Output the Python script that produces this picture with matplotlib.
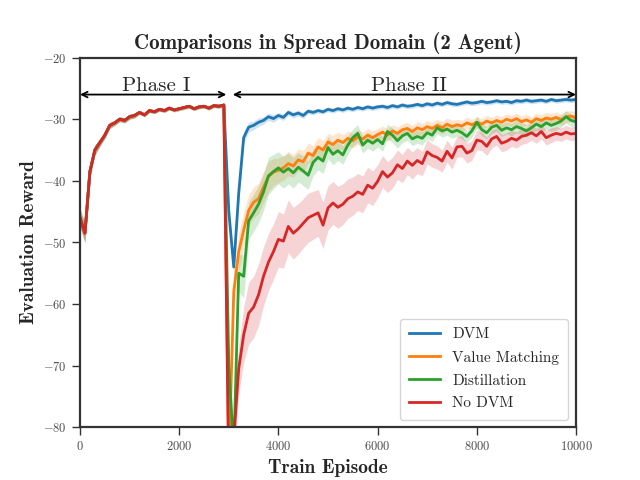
import numpy as np
import matplotlib
matplotlib.use('Agg')
import matplotlib.pyplot as plt

plt.rcParams['font.family'] = 'cmr10'
plt.rcParams['mathtext.fontset'] = 'cm'
plt.rcParams['axes.formatter.use_mathtext'] = True
plt.rcParams['axes.unicode_minus'] = True
plt.rcParams['axes.edgecolor'] = '0.2'
plt.rcParams['axes.linewidth'] = 1.6
plt.rcParams['xtick.color'] = '0.2'
plt.rcParams['ytick.color'] = '0.2'
plt.rcParams['xtick.major.size'] = 6
plt.rcParams['ytick.major.size'] = 6
plt.rcParams['xtick.major.width'] = 1.0
plt.rcParams['ytick.major.width'] = 1.0

episodes = np.arange(0, 10001, 100)

# phase I (0..2900): all methods overlap
phase1 = [-46.0, -48.5, -38.5, -35.0, -33.8, -32.6, -31.0, -30.6, -30.0, -30.2,
          -29.6, -29.4, -28.9, -29.3, -28.6, -28.8, -28.4, -28.6, -28.2, -28.5,
          -28.3, -28.1, -27.9, -28.3, -28.0, -27.9, -28.2, -27.8, -27.9, -27.7]
phase1_std = [1.5, 1.5, 1.0, 0.8, 0.6, 0.5, 0.5, 0.4, 0.4, 0.4,
              0.4, 0.4, 0.3, 0.3, 0.3, 0.3, 0.3, 0.3, 0.3, 0.3,
              0.3, 0.3, 0.3, 0.3, 0.3, 0.3, 0.3, 0.3, 0.3, 0.3]

# phase II (3000..10000)
dvm = [-45.0, -54.0, -42.0, -33.0, -31.3, -31.0, -30.5, -30.2, -29.6, -29.9,
       -29.4, -29.7, -28.9, -29.3, -29.0, -29.4, -28.7, -28.9, -28.6, -28.8,
       -28.4, -28.6, -28.3, -28.5, -28.2, -28.4, -28.1, -28.3, -28.0, -28.2,
       -28.0, -27.9, -28.1, -27.8, -28.0, -27.7, -27.9, -27.8, -27.6, -27.8,
       -27.5, -27.7, -27.4, -27.6, -27.3, -27.5, -27.6, -27.4, -27.2, -27.4,
       -27.3, -27.1, -27.3, -27.2, -27.0, -27.2, -27.1, -27.3, -27.0, -27.1,
       -26.9, -27.1, -27.0, -26.9, -27.1, -26.8, -27.0, -26.9, -26.8, -26.9,
       -26.8]
dvm_std = [1.5, 1.0, 1.5, 1.0, 0.8, 0.7, 0.7, 0.6, 0.6, 0.6,
           0.5, 0.5, 0.5, 0.5, 0.5, 0.5, 0.4, 0.4, 0.4, 0.4,
           0.4, 0.4, 0.4, 0.4, 0.4, 0.4, 0.4, 0.4, 0.4, 0.4,
           0.4, 0.4, 0.4, 0.4, 0.4, 0.4, 0.4, 0.4, 0.4, 0.4,
           0.4, 0.4, 0.4, 0.4, 0.4, 0.4, 0.4, 0.4, 0.4, 0.4,
           0.4, 0.4, 0.4, 0.4, 0.4, 0.4, 0.4, 0.4, 0.4, 0.4,
           0.4, 0.4, 0.4, 0.4, 0.4, 0.4, 0.4, 0.4, 0.4, 0.4,
           0.4]

value_matching = [-86.0, -58.0, -51.5, -48.0, -44.8, -43.5, -42.9, -41.0, -39.3, -38.6,
                  -38.3, -37.9, -37.2, -37.6, -36.6, -36.9, -35.5, -35.9, -34.5, -35.0,
                  -33.7, -34.1, -33.4, -33.8, -33.1, -33.5, -32.9, -33.2, -32.6, -33.0,
                  -32.5, -32.1, -32.6, -31.9, -32.3, -31.7, -31.5, -32.0, -31.4, -31.7,
                  -31.2, -31.5, -31.0, -31.4, -30.8, -31.2, -30.9, -31.1, -30.6, -30.9,
                  -30.5, -30.8, -30.3, -30.6, -30.2, -30.5, -30.0, -30.3, -29.9, -30.4,
                  -30.1, -30.5, -29.9, -30.2, -29.8, -30.0, -29.7, -30.1, -29.6, -29.5,
                  -29.8]
value_matching_std = [2.0, 3.0, 3.0, 3.0, 2.5, 2.5, 2.5, 2.5, 2.5, 2.2,
                      2.0, 2.0, 2.0, 1.8, 1.8, 1.8, 1.6, 1.6, 1.5, 1.5,
                      1.4, 1.4, 1.3, 1.3, 1.2, 1.2, 1.2, 1.1, 1.1, 1.1,
                      1.0, 1.0, 1.0, 1.0, 1.0, 1.0, 1.0, 1.0, 1.0, 1.0,
                      1.0, 1.0, 1.0, 1.0, 1.0, 1.0, 0.9, 0.9, 0.9, 0.9,
                      0.9, 0.9, 0.9, 0.9, 0.9, 0.9, 0.9, 0.9, 0.9, 0.9,
                      0.9, 0.9, 0.9, 0.9, 0.9, 0.9, 0.9, 0.9, 0.9, 0.9,
                      0.9]

distillation = [-70.0, -84.0, -55.0, -55.5, -46.5, -45.2, -43.8, -41.8, -39.2, -38.5,
                -37.9, -38.6, -38.0, -38.7, -37.8, -38.4, -39.1, -37.0, -36.2, -36.8,
                -34.6, -35.7, -35.1, -35.8, -34.2, -33.0, -32.3, -34.2, -33.4, -33.9,
                -33.3, -34.0, -32.0, -32.6, -33.5, -32.7, -32.3, -33.2, -32.8, -33.1,
                -32.2, -32.6, -31.4, -31.9, -31.6, -32.1, -31.8, -32.2, -32.8, -31.9,
                -30.5, -31.7, -32.2, -31.3, -31.0, -31.8, -31.4, -31.7, -31.2, -31.5,
                -31.9, -31.4, -30.8, -31.2, -30.6, -31.0, -30.7, -30.3, -29.6, -30.2,
                -30.4]
distillation_std = [2.0, 3.0, 3.0, 3.5, 3.0, 3.0, 3.0, 3.0, 3.0, 2.8,
                    2.6, 2.6, 2.5, 2.5, 2.4, 2.4, 2.3, 2.2, 2.0, 2.0,
                    1.8, 1.7, 1.6, 1.5, 1.5, 1.4, 1.4, 1.3, 1.3, 1.3,
                    1.2, 1.2, 1.2, 1.2, 1.2, 1.1, 1.1, 1.1, 1.1, 1.1,
                    1.0, 1.0, 1.0, 1.0, 1.0, 1.0, 1.0, 1.0, 1.0, 1.0,
                    1.0, 1.0, 1.0, 1.0, 1.0, 1.0, 1.0, 1.0, 1.0, 1.0,
                    1.0, 1.0, 1.0, 1.0, 1.0, 1.0, 1.0, 1.0, 1.0, 1.0,
                    1.0]

no_dvm = [-88.0, -82.0, -70.5, -65.0, -61.5, -60.5, -58.5, -55.5, -53.2, -51.5,
          -49.5, -49.8, -47.4, -48.5, -47.8, -46.9, -46.0, -45.6, -45.2, -47.2,
          -44.4, -43.6, -44.3, -43.8, -42.9, -42.5, -41.8, -42.2, -40.7, -41.2,
          -40.1, -38.5, -39.4, -38.7, -37.4, -38.0, -36.8, -37.5, -36.7, -37.2,
          -35.3, -35.9, -36.2, -36.8, -35.2, -36.3, -34.5, -34.4, -35.5, -35.1,
          -33.4, -33.6, -34.4, -33.2, -32.8, -33.9, -33.6, -33.1, -33.4, -32.8,
          -32.6, -32.2, -32.7, -32.0, -33.0, -32.6, -32.3, -32.5, -32.1, -32.4,
          -32.3]
no_dvm_std = [3.0, 4.0, 4.0, 4.5, 5.0, 5.0, 5.0, 4.8, 4.6, 4.5,
              4.5, 4.4, 4.3, 4.2, 4.1, 4.0, 4.0, 3.9, 3.8, 3.8,
              3.6, 3.5, 3.4, 3.3, 3.2, 3.1, 3.0, 3.0, 2.9, 2.8,
              2.7, 2.6, 2.5, 2.5, 2.4, 2.3, 2.2, 2.2, 2.1, 2.0,
              2.0, 1.9, 1.9, 1.8, 1.8, 1.8, 1.7, 1.7, 1.6, 1.6,
              1.6, 1.5, 1.5, 1.5, 1.4, 1.4, 1.4, 1.3, 1.3, 1.3,
              1.3, 1.2, 1.2, 1.2, 1.2, 1.2, 1.1, 1.1, 1.1, 1.1,
              1.1]

series = [
    ('DVM', dvm, dvm_std, '#1f77b4'),
    ('Value Matching', value_matching, value_matching_std, '#ff7f0e'),
    ('Distillation', distillation, distillation_std, '#2ca02c'),
    ('No DVM', no_dvm, no_dvm_std, '#d62728'),
]

fig, ax = plt.subplots(figsize=(6.4, 4.8), dpi=100)

for name, p2, p2_std, color in series:
    mean = np.array(phase1 + p2)
    std = np.array(phase1_std + p2_std)
    ax.fill_between(episodes, mean - std, mean + std, color=color, alpha=0.2, linewidth=0)
    ax.plot(episodes, mean, color=color, linewidth=2, label=name)

ax.set_xlim(0, 10000)
ax.set_ylim(-80, -20)
ax.set_xticks([0, 2000, 4000, 6000, 8000, 10000])
ax.set_yticks([-80, -70, -60, -50, -40, -30, -20])
ax.tick_params(labelsize=9, labelcolor='0.3')

# phase arrows
arrow = dict(arrowstyle='<->', color='black', lw=1.3, shrinkA=0, shrinkB=0)
ax.annotate('', xy=(0, -26), xytext=(2950, -26), arrowprops=arrow)
ax.annotate('', xy=(3080, -26), xytext=(10000, -26), arrowprops=arrow)
ax.text(1535, -24.6, 'Phase I', ha='center', va='center', fontsize=15, color='0.15')
ax.text(6630, -24.6, 'Phase II', ha='center', va='center', fontsize=15, color='0.15')

ax.set_title('Comparisons in Spread Domain (2 Agent)', fontfamily='cmb10', fontsize=15, color='0.15')
ax.set_xlabel('Train Episode', fontfamily='cmb10', fontsize=14, color='0.15')
ax.set_ylabel('Evaluation Reward', fontfamily='cmb10', fontsize=14, color='0.15')

leg = ax.legend(loc='lower right', fontsize=11, frameon=True, fancybox=True,
                borderpad=0.6, labelspacing=0.6)
leg.get_frame().set_edgecolor('0.8')
for t in leg.get_texts():
    t.set_color('0.15')

fig.savefig('out.png', dpi=100)
